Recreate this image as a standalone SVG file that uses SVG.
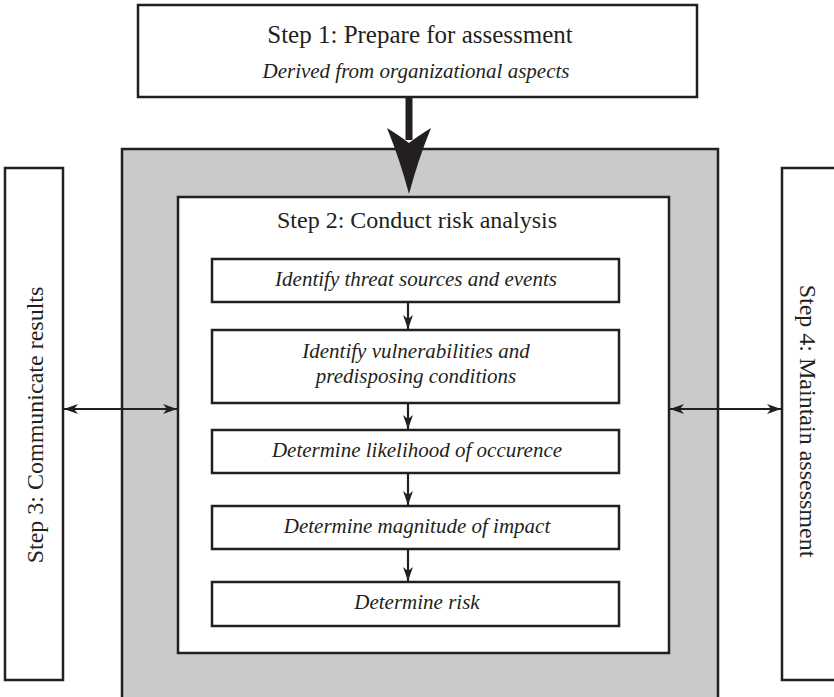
<svg xmlns="http://www.w3.org/2000/svg" width="834" height="697" viewBox="0 0 834 697">
  <style>
    .box { fill: #ffffff; stroke: #231f20; stroke-width: 2.5; }
    .gray { fill: #c9cacc; stroke: #231f20; stroke-width: 2.5; }
    .t { font-family: "Liberation Serif", "Times New Roman", serif; fill: #231f20; text-anchor: middle; }
    .title { font-size: 24px; }
    .big { font-size: 25px; }
    .it { font-size: 21px; font-style: italic; }
    .conn { stroke: #231f20; stroke-width: 2.2; fill: none; }
  </style>
  <defs>
    <marker id="ah" viewBox="0 0 14 10" refX="14" refY="5" markerWidth="14" markerHeight="10" markerUnits="userSpaceOnUse" orient="auto-start-reverse">
      <path d="M0,0 L14,5 L0,10 L4,5 Z" fill="#231f20"/>
    </marker>
  </defs>
  <rect width="834" height="697" fill="#ffffff"/>

  <g id="step1">
    <rect class="box" x="138" y="5" width="559" height="92"/>
    <text class="t big" x="420" y="43">Step 1: Prepare for assessment</text>
    <text class="t it" x="416" y="78">Derived from organizational aspects</text>
  </g>

  <g id="step2-outer">
    <rect class="gray" x="122" y="149" width="596" height="560"/>
  </g>

  <g id="step2">
    <rect class="box" x="178" y="197" width="491" height="456"/>
    <text class="t title" x="417" y="228">Step 2: Conduct risk analysis</text>
  </g>

  <g id="step3">
    <rect class="box" x="5" y="168" width="58" height="512"/>
    <text class="t title" transform="translate(43,425) rotate(-90)">Step 3: Communicate results</text>
  </g>

  <g id="step4">
    <rect class="box" x="782" y="168" width="60" height="512"/>
    <text class="t title" transform="translate(800,421) rotate(90)">Step 4: Maintain assessment</text>
  </g>

  <g id="sub1">
    <rect class="box" x="212" y="259" width="407" height="43"/>
    <text class="t it" x="416" y="286">Identify threat sources and events</text>
  </g>
  <g id="sub2">
    <rect class="box" x="212" y="330" width="407" height="73"/>
    <text class="t it" x="416" y="358">Identify vulnerabilities and</text>
    <text class="t it" x="416" y="383">predisposing conditions</text>
  </g>
  <g id="sub3">
    <rect class="box" x="212" y="430" width="407" height="43"/>
    <text class="t it" x="417" y="457">Determine likelihood of occurence</text>
  </g>
  <g id="sub4">
    <rect class="box" x="212" y="506" width="407" height="43"/>
    <text class="t it" x="417" y="533">Determine magnitude of impact</text>
  </g>
  <g id="sub5">
    <rect class="box" x="212" y="582" width="407" height="44"/>
    <text class="t it" x="417" y="609">Determine risk</text>
  </g>

  <g id="connectors">
    <line x1="409" y1="97" x2="409" y2="140" stroke="#231f20" stroke-width="7"/>
    <path d="M387,128 Q400,136 409,143 Q418,136 431,128 Q418,160 409,194 Q400,160 387,128 Z" fill="#231f20"/>
    <line class="conn" x1="408" y1="302" x2="408" y2="329" marker-end="url(#ah)"/>
    <line class="conn" x1="408" y1="403" x2="408" y2="429" marker-end="url(#ah)"/>
    <line class="conn" x1="408" y1="473" x2="408" y2="505" marker-end="url(#ah)"/>
    <line class="conn" x1="408" y1="549" x2="408" y2="581" marker-end="url(#ah)"/>
    <line class="conn" x1="64" y1="409" x2="177" y2="409" marker-start="url(#ah)" marker-end="url(#ah)"/>
    <line class="conn" x1="670" y1="409" x2="781" y2="409" marker-start="url(#ah)" marker-end="url(#ah)"/>
  </g>
</svg>
